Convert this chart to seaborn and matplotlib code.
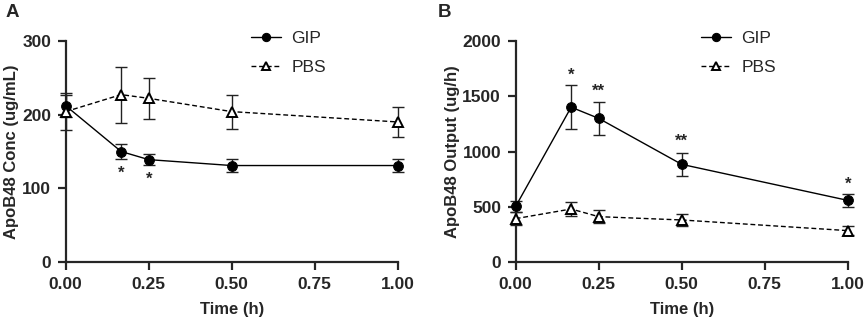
# ApoB48 concentration and output, GIP vs PBS
import numpy as np
import pandas as pd
import seaborn as sns
import matplotlib.pyplot as plt

# ======================================================
# DATA
# ======================================================

time_h = [0.0, 0.167, 0.25, 0.5, 1.0]
x_ticks = [0.00, 0.25, 0.50, 0.75, 1.00]

conc_gip = [212, 150, 139, 131, 131]
conc_gip_err = [15, 9.5, 7, 9, 9]
conc_pbs = [204, 227, 222, 204, 190]
conc_pbs_err = [25, 38, 28, 23, 20]
conc_stars = ["", "*", "*", "", ""]
conc_star_y = [0, 121, 113, 0, 0]

out_gip = [505, 1400, 1299, 884, 559]
out_gip_err = [50, 200, 150, 103, 57]
out_pbs = [394, 481, 412, 382, 286]
out_pbs_err = [60, 60, 60, 58, 40]
out_stars = ["", "*", "**", "**", "*"]
out_star_y = [0, 1690, 1540, 1090, 705]

# ======================================================
# STYLE
# ======================================================

sns.set_style("ticks")
plt.rcParams["font.family"] = ["Liberation Sans", "DejaVu Sans"]
plt.rcParams["axes.linewidth"] = 1.6

fig, axes = plt.subplots(1, 2, figsize=(8.65, 3.21), dpi=100)


def draw_panel(ax, gip, gip_err, pbs, pbs_err, stars, star_y, ylim, yticks, ylabel):
    df = pd.DataFrame({"time": time_h, "GIP": gip, "PBS": pbs})

    ax.errorbar(time_h, gip, yerr=gip_err, fmt="none", ecolor="#222222",
                elinewidth=1.0, capsize=4, capthick=1.0, zorder=3, clip_on=False)
    ax.errorbar(time_h, pbs, yerr=pbs_err, fmt="none", ecolor="#222222",
                elinewidth=1.0, capsize=4, capthick=1.0, zorder=3, clip_on=False)

    sns.lineplot(data=df, x="time", y="GIP", ax=ax, color="black", lw=1.0,
                 marker="o", markersize=7, markeredgecolor="black",
                 markerfacecolor="black", label="GIP", zorder=4, clip_on=False)
    sns.lineplot(data=df, x="time", y="PBS", ax=ax, color="black", lw=1.0,
                 linestyle=(0, (3.5, 2)), marker="^", markersize=7.5,
                 markeredgecolor="black", markerfacecolor="white",
                 markeredgewidth=1.4, label="PBS", zorder=4, clip_on=False)

    for t, s, y in zip(time_h, stars, star_y):
        if s:
            ax.text(t, y, s, ha="center", va="center", fontsize=12,
                    fontweight="bold")

    ax.set_xlim(0, 1)
    ax.set_ylim(*ylim)
    ax.set_xticks(x_ticks)
    ax.set_xticklabels([f"{v:.2f}" for v in x_ticks])
    ax.set_yticks(yticks)
    ax.tick_params(width=1.6, length=6, labelsize=12.5, pad=4.5)
    for lab in ax.get_xticklabels() + ax.get_yticklabels():
        lab.set_fontweight("bold")
    ax.set_xlabel("Time (h)", fontsize=12, fontweight="bold", labelpad=7)
    ax.set_ylabel(ylabel, fontsize=12, fontweight="bold", labelpad=2)
    sns.despine(ax=ax)

    ax.legend(loc="upper left", bbox_to_anchor=(0.51, 1.115), frameon=False,
              fontsize=12.5, handlelength=1.75, labelspacing=0.8,
              markerscale=0.85, handletextpad=0.6)


draw_panel(axes[0], conc_gip, conc_gip_err, conc_pbs, conc_pbs_err,
           conc_stars, conc_star_y, (0, 300), [0, 100, 200, 300],
           "ApoB48 Conc (ug/mL)")
draw_panel(axes[1], out_gip, out_gip_err, out_pbs, out_pbs_err,
           out_stars, out_star_y, (0, 2000), [0, 500, 1000, 1500, 2000],
           "ApoB48 Output (ug/h)")

# axes positions in pixels
axes[0].set_position([65.7 / 865, 1 - 262.3 / 321, 332 / 865, 221.6 / 321])
axes[1].set_position([515.7 / 865, 1 - 262.3 / 321, 332 / 865, 221.6 / 321])

fig.text(0.006, 0.96, "A", fontsize=13.5, fontweight="bold", va="center")
fig.text(0.506, 0.96, "B", fontsize=13.5, fontweight="bold", va="center")

plt.savefig("out.png", dpi=100)
plt.close()
